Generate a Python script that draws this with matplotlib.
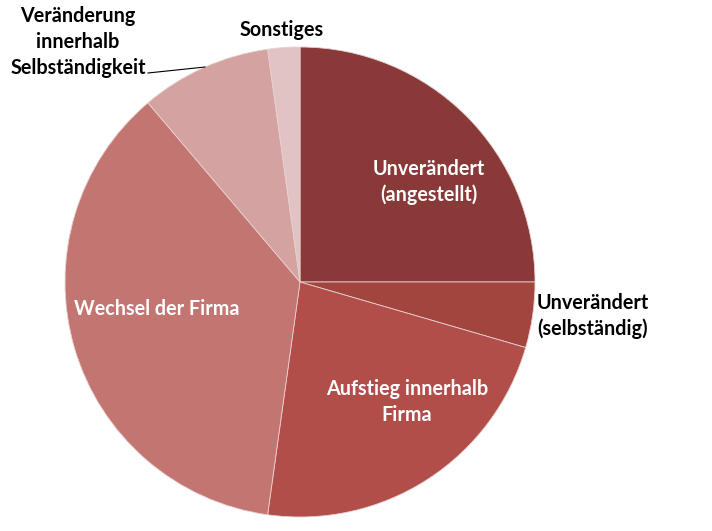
import matplotlib.pyplot as plt

# slice shares (percent), clockwise from 12 o'clock
labels = ['Unverändert\n(angestellt)', 'Unverändert\n(selbständig)',
          'Aufstieg innerhalb\nFirma', 'Wechsel der Firma',
          'Veränderung\ninnerhalb\nSelbständigkeit', 'Sonstiges']
values = [25.0, 4.5, 22.7, 36.6, 9.0, 2.2]
colors = ['#893A38', '#A2453F', '#B24E4A', '#C37571', '#D4A2A0', '#E2C3C3']

H = 531
fig = plt.figure(figsize=(7.12, 5.31), dpi=100)
ax = fig.add_axes([0, 0, 1, 1])
ax.set_xlim(0, 712)
ax.set_ylim(0, H)
ax.axis('off')

ax.pie(values, colors=colors, startangle=90, counterclock=False,
       center=(300, H - 282), radius=235,
       wedgeprops=dict(edgecolor='#E8D0D0', linewidth=0.6))
ax.set_xlim(0, 712)
ax.set_ylim(0, H)
ax.set_aspect('equal')

font = dict(family='Lato', fontweight='bold', fontsize=14.2, linespacing=1.38)

# labels: (x, y in pixels from top, color, ha)
pos = [(429, 182, 'white', 'center'),
       (537, 316, 'black', 'left'),
       (407, 402, 'white', 'center'),
       (157, 309, 'white', 'center'),
       (78, 42, 'black', 'center'),
       (282, 30, 'black', 'center')]

for lab, (x, y, c, ha) in zip(labels, pos):
    ax.text(x, H - y, lab, color=c, ha=ha, va='center', **font)

# leader line for the small slice label
ax.plot([148, 205], [H - 73, H - 67], color='black', linewidth=0.8)

fig.savefig('out.png', dpi=100)
